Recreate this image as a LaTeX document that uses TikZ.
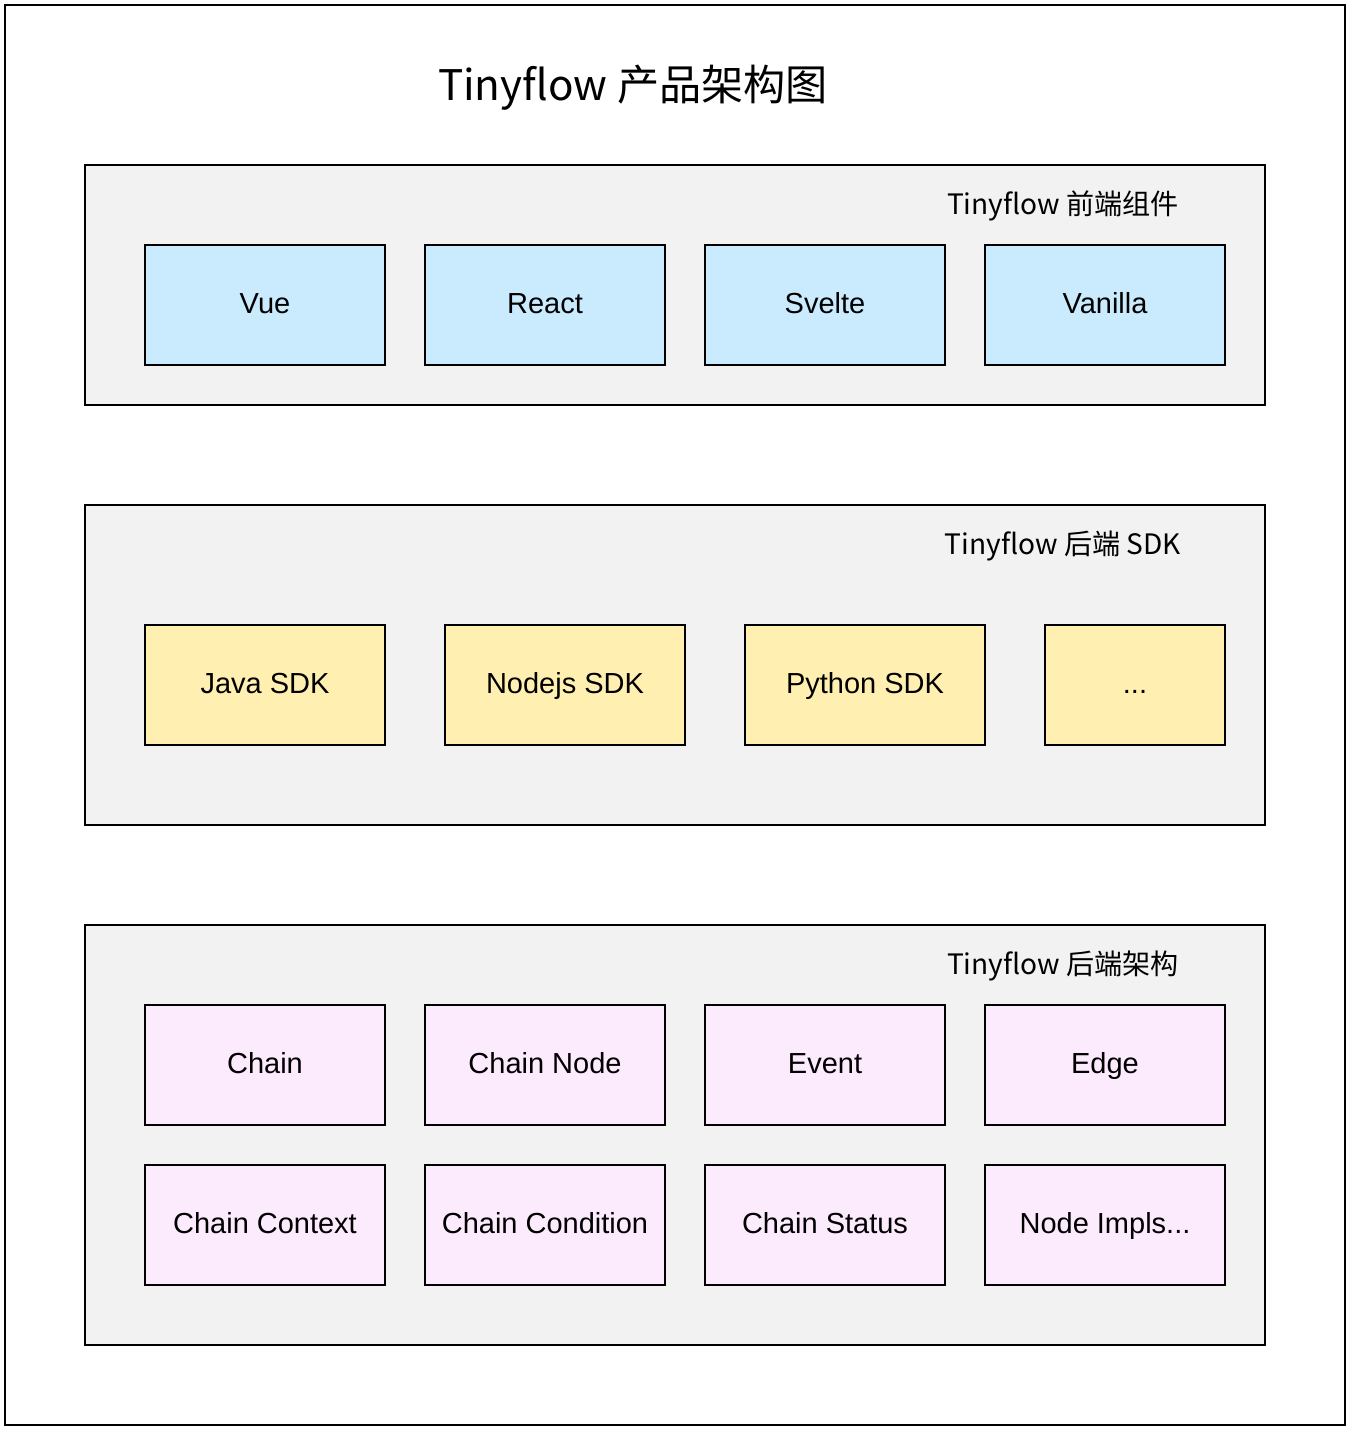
\documentclass[tikz,border=0pt]{standalone}
\usepackage{fontspec}
\setmainfont{Liberation Sans}
\newfontfamily\cjk{Noto Sans CJK SC}
\definecolor{groupgray}{HTML}{F2F2F2}
\definecolor{feblue}{HTML}{C9EBFD}
\definecolor{sdkyellow}{HTML}{FFEFB0}
\definecolor{corepink}{HTML}{FCEAFD}
\tikzset{
  layer/.style={draw,line width=1.1pt,fill=groupgray,minimum width=23.6cm,anchor=north west,inner sep=0pt,outer sep=0pt},
  block/.style={draw,line width=1.1pt,minimum width=4.8cm,minimum height=2.4cm,inner sep=0pt,text height=10.2pt,text depth=0pt,font=\fontsize{16.5}{20}\selectfont},
  layertitle/.style={inner sep=0pt,text height=11.8pt,text depth=0pt,font=\cjk\fontsize{16}{20}\selectfont},
}
\begin{document}
\begin{tikzpicture}[x=0.02cm,y=-0.02cm]
            \useasboundingbox (0,0) rectangle (1350,1430);
            \draw[line width=1.1pt] (5,5) rectangle (1345,1425);
            \node[inner sep=0pt,text height=17.6pt,text depth=0pt,font=\cjk\fontsize{24}{28}\selectfont] (title) at (633,85) {Tinyflow 产品架构图};
            % layers
            \node[layer,minimum height=4.8cm] (front) at (85,165) {};
            \node[layer,minimum height=6.4cm] (sdk) at (85,505) {};
            \node[layer,minimum height=8.4cm] (core) at (85,925) {};
            \node[layertitle] (fronttitle) at (1063,204) {Tinyflow 前端组件};
            \node[layertitle] (sdktitle) at (1063,544) {Tinyflow 后端 SDK};
            \node[layertitle] (coretitle) at (1063,964) {Tinyflow 后端架构};
            % front components
            \foreach \u \w \n in {265/Vue/vue,545/React/react,825/Svelte/svelte,1105/Vanilla/vanilla}
            \node[block,fill=feblue] (\n) at (\u,305) {\w};
            % sdk
            \foreach \u \w \n in {265/Java SDK/java,565/Nodejs SDK/nodejs,865/Python SDK/python}
            \node[block,fill=sdkyellow] (\n) at (\u,685) {\w};
            \node[block,fill=sdkyellow,minimum width=3.6cm] (moresdk) at (1135,685) {...};
            % core
            \foreach \u \v \w \n in {265/1065/{Chain}/chain,545/1065/{Chain Node}/chainnode,825/1065/{Event}/event,1105/1065/{Edge}/edge,265/1225/{Chain Context}/context,545/1225/{Chain Condition}/condition,825/1225/{Chain Status}/status,1105/1225/{Node Impls...}/impls}
            \node[block,fill=corepink] (\n) at (\u,\v) {\w};
        \end{tikzpicture}
\end{document}
